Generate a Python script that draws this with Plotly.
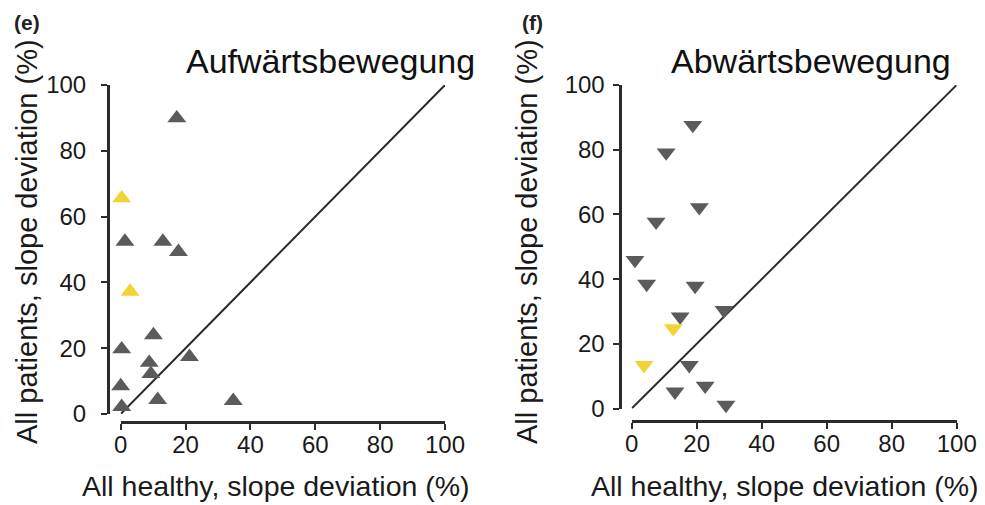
import plotly.graph_objects as go

# ---------------- data ----------------
# Panel (e) Aufwärtsbewegung
up_gray_x = [17.3, 1.3, 13.0, 17.8, 10.1, 0.3, 8.8, 9.3, 21.2, 0.0, 11.4, 34.7, 0.3]
up_gray_y = [89.9, 52.4, 52.4, 49.3, 24.0, 19.7, 15.6, 12.2, 17.4, 8.5, 4.3, 4.0, 2.2]
up_yellow_x = [0.3, 2.9]
up_yellow_y = [65.6, 37.2]

# Panel (f) Abwärtsbewegung
down_gray_x = [18.8, 10.6, 20.8, 7.5, 1.0, 4.6, 19.5, 28.4, 14.9, 17.7, 13.3, 22.6, 29.0]
down_gray_y = [87.6, 79.1, 62.2, 57.7, 45.9, 38.5, 37.9, 30.4, 28.4, 13.4, 5.2, 7.0, 1.1]
down_yellow_x = [12.8, 3.8]
down_yellow_y = [24.8, 13.4]

identity = [0, 100]
tick_vals = [0, 20, 40, 60, 80, 100]
tick_text = ["0", "20", "40", "60", "80", "100"]

panel_titles = ["Aufwärtsbewegung", "Abwärtsbewegung"]
panel_letters = ["(e)", "(f)"]
x_title = "All healthy, slope deviation (%)"
y_title = "All patients, slope deviation (%)"

# ---------------- style ----------------
W, H = 985, 505
GRAY = "#5b5b5b"
YELLOW = "#f3d333"
AX = "#2b2b2b"
FONT = "Liberation Sans, Arial, sans-serif"
MSIZE = 16.5

def px(x):
    return x / W

def py(y):
    return (H - y) / H

fig = go.Figure()

def add_points(xs, ys, color, symbol, xa, ya):
    fig.add_trace(go.Scatter(
        x=xs, y=ys, mode="markers", xaxis=xa, yaxis=ya, cliponaxis=False,
        marker=dict(symbol=symbol, size=MSIZE, color=color, line=dict(width=0)),
        showlegend=False, hoverinfo="skip"))

# diagonal lines
for xa, ya in (("x", "y"), ("x2", "y2")):
    fig.add_trace(go.Scatter(x=identity, y=identity, mode="lines", xaxis=xa, yaxis=ya,
                             line=dict(color=AX, width=2), showlegend=False,
                             hoverinfo="skip", cliponaxis=False))

add_points(up_gray_x, up_gray_y, GRAY, "triangle-up", "x", "y")
add_points(up_yellow_x, up_yellow_y, YELLOW, "triangle-up", "x", "y")
add_points(down_gray_x, down_gray_y, GRAY, "triangle-down", "x2", "y2")
add_points(down_yellow_x, down_yellow_y, YELLOW, "triangle-down", "x2", "y2")

common = dict(range=[0, 100], tickvals=tick_vals, ticktext=tick_text, showgrid=False,
              zeroline=False, showline=True, linecolor=AX, linewidth=3,
              ticks="outside", ticklen=6, tickwidth=2, tickcolor=AX, automargin=False,
              tickfont=dict(family=FONT, size=24, color="#1a1a1a"), fixedrange=True)

# panel geometry in pixels
L = dict(x0=120.7, x1=445.0, y0=414.0, y1=85.0, yline=108.0, xline=421.7)
R = dict(x0=631.7, x1=956.7, y0=408.5, y1=85.0, yline=619.5, xline=420.7)

fig.update_layout(
    width=W, height=H, margin=dict(l=0, r=0, t=0, b=0, autoexpand=False),
    paper_bgcolor="white", plot_bgcolor="white", showlegend=False,
    xaxis=dict(domain=[px(L["x0"]), px(L["x1"])], anchor="free", position=py(L["xline"]),
               ticklabelstandoff=-6, **common),
    yaxis=dict(domain=[py(L["y0"]), py(L["y1"])], anchor="free", position=px(L["yline"]),
               ticklabelstandoff=10, **common),
    xaxis2=dict(domain=[px(R["x0"]), px(R["x1"])], anchor="free", position=py(R["xline"]),
                ticklabelstandoff=-6, **common),
    yaxis2=dict(domain=[py(R["y0"]), py(R["y1"])], anchor="free", position=px(R["yline"]),
                ticklabelstandoff=3, **common),
)

ann = []
# panel titles
ann.append(dict(text=panel_titles[0], x=px(330), y=py(61), font=dict(family=FONT, size=34, color="#111")))
ann.append(dict(text=panel_titles[1], x=px(811), y=py(61), font=dict(family=FONT, size=34, color="#111")))
# letters
ann.append(dict(text="<b>" + panel_letters[0] + "</b>", x=px(27), y=py(22), font=dict(family=FONT, size=21, color="#222")))
ann.append(dict(text="<b>" + panel_letters[1] + "</b>", x=px(532), y=py(22), font=dict(family=FONT, size=21, color="#222")))
# axis titles
ann.append(dict(text=x_title, x=px(276), y=py(486), font=dict(family=FONT, size=28.5, color="#1a1a1a")))
ann.append(dict(text=x_title, x=px(785), y=py(486), font=dict(family=FONT, size=28.5, color="#1a1a1a")))
ann.append(dict(text=y_title, x=px(27), y=py(242), textangle=-90, font=dict(family=FONT, size=29, color="#1a1a1a")))
ann.append(dict(text=y_title, x=px(527), y=py(242), textangle=-90, font=dict(family=FONT, size=29, color="#1a1a1a")))

for a in ann:
    a.update(xref="paper", yref="paper", showarrow=False, xanchor="center", yanchor="middle")
fig.update_layout(annotations=ann)

fig.write_html("out.html", config={"displayModeBar": False, "staticPlot": True},
               post_script="document.body.style.margin='0';document.body.style.padding='0';")
